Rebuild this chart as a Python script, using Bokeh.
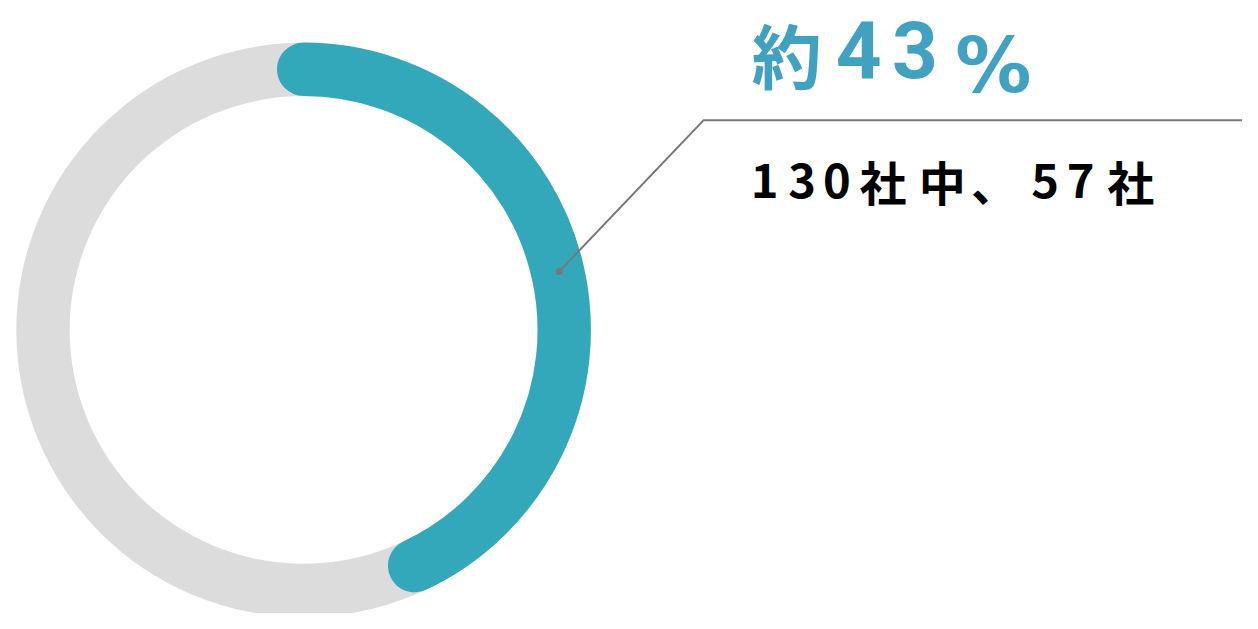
from bokeh.plotting import figure
from bokeh.models import Range1d
from bokeh.core.properties import value
from bokeh.embed import file_html
from bokeh.resources import INLINE
import math

# ---- data ----
total_companies = 130
matching_companies = 57
share_percent = 43          # as printed on the chart
headline_prefix = "約"
headline_digits = ["4", "3"]
headline_suffix = "%"
detail_chars = ["1", "3", "0", "社", "中", "、", "5", "7", "社"]

# ---- layout: reference-pixel coordinates, data y = 629 - ref y ----
W, H = 1242, 613
REF_W, REF_H = 1258, 629
def py(y):
    return REF_H - y

cx, cy = 307, py(338)
r_in, r_out = 237, 291
r_mid = (r_in + r_out) / 2
ring_w_px = (r_out - r_in) * W / REF_W

teal = "#33a8bb"
text_teal = "#41a1c1"
grey = "#dcdcdc"
line_col = "#777777"

p = figure(width=W, height=H, output_backend="svg", toolbar_location=None,
           x_range=Range1d(0, REF_W), y_range=Range1d(0, REF_H),
           min_border=0, outline_line_color=None)
p.axis.visible = False
p.grid.visible = False
p.background_fill_color = "white"
p.border_fill_color = "white"

# background ring
p.annulus(x=[cx], y=[cy], inner_radius=r_in, outer_radius=r_out,
          fill_color=grey, line_color=None)

# highlighted arc
frac = share_percent / 100.0
start = math.pi / 2
end = start - frac * 2 * math.pi
p.arc(x=[cx], y=[cy], radius=r_mid, start_angle=start, end_angle=end,
      direction="clock", line_width=ring_w_px, line_color=teal, line_cap="round")

# leader line
p.line(x=[566, 712, REF_W], y=[py(278), py(123), py(123)],
       line_color=line_col, line_width=2)
p.scatter(x=[566], y=[py(278)], size=7, fill_color=line_col, line_color=None)

# headline "約43%"
p.text(x=[761], y=[py(3)], text=[headline_prefix],
       text_font=value("Noto Sans CJK JP"), text_font_style="bold",
       text_font_size="70px", text_color=text_teal,
       text_align="left", text_baseline="top")
p.text(x=[846, 903], y=[py(21)] * len(headline_digits), text=headline_digits,
       text_font=value("Roboto"), text_font_style="bold",
       text_font_size="80px", text_color=text_teal,
       text_align="left", text_baseline="top")
p.text(x=[967], y=[py(21)], text=[headline_suffix],
       text_font=value("DejaVu Sans"), text_font_style="bold",
       text_font_size="76px", text_color=text_teal,
       text_align="left", text_baseline="top")

# detail text "130社中、57社"
small_x = [760, 798, 833, 870, 930, 983, 1044, 1080, 1121]
p.text(x=small_x, y=[py(185)] * len(detail_chars), text=detail_chars,
       text_font=value("Noto Sans CJK JP"), text_font_style="bold",
       text_font_size="47px", text_color="#000000",
       text_align="left", text_baseline="alphabetic")

open("out.html", "w").write(file_html(p, INLINE))
